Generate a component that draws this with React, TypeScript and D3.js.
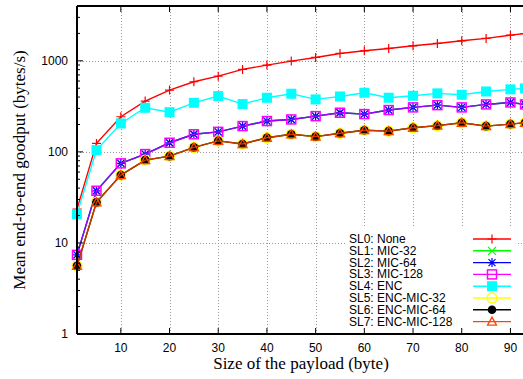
import React from "react";
import * as d3 from "d3";

const payloadSizes = [1, 5, 10, 15, 20, 25, 30, 35, 40, 45, 50, 55, 60, 65, 70, 75, 80, 85, 90, 93];

const sl0None = [23.5, 124, 243, 361, 477, 589, 679, 805, 898, 993, 1089, 1205, 1288, 1368, 1462, 1552, 1660, 1762, 1915, 1995];
const sl1Mic32 = [7.4, 37.4, 74.8, 94.6, 126, 156, 166, 192, 218, 227, 247, 269, 260, 288, 308, 326, 308, 332, 349, 332];
const sl2Mic64 = [7.4, 37.4, 74.8, 94.6, 126, 156, 166, 192, 218, 227, 247, 269, 260, 288, 308, 326, 308, 332, 349, 332];
const sl3Mic128 = [7.4, 37.4, 74.8, 94.6, 126, 156, 166, 192, 218, 227, 247, 269, 260, 288, 308, 326, 308, 332, 349, 332];
const sl4Enc = [20.7, 104.6, 205, 305, 273, 346, 410, 335, 393, 435, 377, 406, 446, 393, 413, 439, 424, 461, 486, 498];
const sl5EncMic32 = [5.6, 27.9, 55.6, 81.3, 89.9, 112, 132, 122, 143, 156, 147, 160, 173, 169, 184, 194, 209, 192, 202, 209];
const sl6EncMic64 = [5.6, 27.9, 55.6, 81.3, 89.9, 112, 132, 122, 143, 156, 147, 160, 173, 169, 184, 194, 209, 192, 202, 209];
const sl7EncMic128 = [5.6, 27.9, 55.6, 81.3, 89.9, 112, 132, 122, 143, 156, 147, 160, 173, 169, 184, 194, 209, 192, 202, 209];

const seriesNames = ["SL0: None", "SL1: MIC-32", "SL2: MIC-64", "SL3: MIC-128", "SL4: ENC", "SL5: ENC-MIC-32", "SL6: ENC-MIC-64", "SL7: ENC-MIC-128"];
const seriesValues = [sl0None, sl1Mic32, sl2Mic64, sl3Mic128, sl4Enc, sl5EncMic32, sl6EncMic64, sl7EncMic128];
const seriesColors = ["#ff0000", "#00ff00", "#0000ff", "#ff00ff", "#00ffff", "#ffff00", "#000000", "#ff4500"];
const seriesMarkers = ["plus", "cross", "star", "openSquare", "filledSquare", "openCircle", "filledCircle", "openTriangle"];
const lineOpacity = [1, 1, 1, 0.6, 1, 1, 1, 0.8];

const xTickValues = [10, 20, 30, 40, 50, 60, 70, 80, 90];
const yTickValues = [1, 10, 100, 1000];

const W = 523;
const H = 379;
const left = 77;
const top = 6;
const bottom = 334;

const x = d3.scaleLinear().domain([1, 95]).range([left, left + 94 * 4.87]);
const y = d3.scaleLog().domain([1, 4000]).range([bottom, top]);

function Marker({ type, cx, cy, color }: { type: string; cx: number; cy: number; color: string }) {
  const s = 4.5;
  switch (type) {
    case "plus":
      return (
        <path d={`M${cx - s},${cy}H${cx + s}M${cx},${cy - s}V${cy + s}`} stroke={color} strokeWidth={1.2} fill="none" />
      );
    case "cross":
      return (
        <path d={`M${cx - 4},${cy - 4}L${cx + 4},${cy + 4}M${cx - 4},${cy + 4}L${cx + 4},${cy - 4}`} stroke={color} strokeWidth={1.2} fill="none" />
      );
    case "star":
      return (
        <path
          d={`M${cx - s},${cy}H${cx + s}M${cx},${cy - s}V${cy + s}M${cx - 3.5},${cy - 3.5}L${cx + 3.5},${cy + 3.5}M${cx - 3.5},${cy + 3.5}L${cx + 3.5},${cy - 3.5}`}
          stroke={color}
          strokeWidth={1.2}
          fill="none"
        />
      );
    case "openSquare":
      return (
        <g>
          <rect x={cx - 4.5} y={cy - 4.5} width={9} height={9} stroke={color} strokeWidth={1.5} fill="none" />
          <rect x={cx - 0.5} y={cy - 0.5} width={1} height={1} fill={color} />
        </g>
      );
    case "filledSquare":
      return <rect x={cx - 5} y={cy - 5} width={10} height={10} fill={color} />;
    case "openCircle":
      return <circle cx={cx} cy={cy} r={5} stroke={color} strokeWidth={1.3} fill="none" />;
    case "filledCircle":
      return <circle cx={cx} cy={cy} r={4.3} fill={color} />;
    case "openTriangle":
      return (
        <path d={`M${cx},${cy - 4.5}L${cx + 4.5},${cy + 3.5}L${cx - 4.5},${cy + 3.5}Z`} stroke={color} strokeWidth={1.3} fill="none" />
      );
    default:
      return null;
  }
}

export default function App() {
  const line = d3
    .line<number>()
    .x((_, i) => x(payloadSizes[i]))
    .y((d) => y(d));

  const minorTicks: number[] = [];
  for (let dec = 1; dec <= 1000; dec *= 10) {
    for (let m = 2; m <= 9; m++) {
      const v = dec * m;
      if (v <= 4000) minorTicks.push(v);
    }
  }

  const legendX = 349;
  const legendY0 = 239;
  const legendDy = 11.8;
  const sampleX0 = 473;
  const sampleX1 = 511;

  return (
    <svg width={W} height={H} style={{ position: "absolute", left: 0, top: 0, background: "#fff" }}>
      <rect x={0} y={0} width={W} height={H} fill="#fff" />
      {/* grid */}
      <g stroke="#999" strokeWidth={1} strokeDasharray="1,2">
        {xTickValues.map((v) => (
          <line key={"gx" + v} x1={Math.round(x(v)) + 0.5} x2={Math.round(x(v)) + 0.5} y1={top} y2={bottom} />
        ))}
        {yTickValues.slice(1).map((v) => (
          <line key={"gy" + v} x1={left} x2={W} y1={Math.round(y(v)) + 0.5} y2={Math.round(y(v)) + 0.5} />
        ))}
      </g>
      {/* legend background */}
      <rect x={346} y={227} width={172} height={bottom - 227} fill="#fff" />
      {/* series */}
      {seriesValues.map((vals, si) => (
        <g key={"s" + si}>
          <path d={line(vals) || ""} fill="none" stroke={seriesColors[si]} strokeOpacity={lineOpacity[si]} strokeWidth={1.4} />
          {vals.map((v, i) => (
            <Marker key={i} type={seriesMarkers[si]} cx={x(payloadSizes[i])} cy={y(v)} color={seriesColors[si]} />
          ))}
        </g>
      ))}
      {/* axes */}
      <g stroke="#000" fill="none">
        <line x1={left} x2={W} y1={bottom} y2={bottom} strokeWidth={2} />
        <line x1={left} x2={W} y1={top} y2={top} strokeWidth={2} />
        <line x1={left} x2={left} y1={top} y2={bottom} strokeWidth={2} />
        {xTickValues.map((v) => (
          <g key={"tx" + v}>
            <line x1={x(v)} x2={x(v)} y1={bottom} y2={bottom - 6} strokeWidth={1} />
            <line x1={x(v)} x2={x(v)} y1={top} y2={top + 6} strokeWidth={1} />
          </g>
        ))}
        {yTickValues.map((v) => (
          <line key={"ty" + v} x1={left} x2={left + 6} y1={y(v)} y2={y(v)} strokeWidth={1} />
        ))}
        {minorTicks.map((v) => (
          <line key={"my" + v} x1={left} x2={left + 3} y1={y(v)} y2={y(v)} strokeWidth={1} />
        ))}
      </g>
      {/* tick labels */}
      <g fontFamily="'Liberation Sans', Arial, sans-serif" fontSize={12} fill="#000">
        {xTickValues.map((v) => (
          <text key={"lx" + v} x={x(v)} y={352} textAnchor="middle">
            {v}
          </text>
        ))}
        {yTickValues.map((v) => (
          <text key={"ly" + v} x={68} y={y(v)} textAnchor="end" dominantBaseline="central">
            {v}
          </text>
        ))}
      </g>
      {/* axis titles */}
      <g fontFamily="'Liberation Serif', 'Times New Roman', serif" fontSize={17} fill="#000">
        <text x={301} y={369} textAnchor="middle">
          Size of the payload (byte)
        </text>
        <text transform="translate(25,170) rotate(-90)" textAnchor="middle">
          Mean end-to-end goodput (bytes/s)
        </text>
      </g>
      {/* legend */}
      <g fontFamily="'Liberation Sans', Arial, sans-serif" fontSize={12} fill="#000">
        {seriesNames.map((name, i) => {
          const ly = legendY0 + i * legendDy;
          return (
            <g key={"lg" + i}>
              <text x={legendX} y={ly} dominantBaseline="central">
                {name}
              </text>
              <line x1={sampleX0} x2={sampleX1} y1={ly} y2={ly} stroke={seriesColors[i]} strokeWidth={1.4} />
              <Marker type={seriesMarkers[i]} cx={(sampleX0 + sampleX1) / 2} cy={ly} color={seriesColors[i]} />
            </g>
          );
        })}
      </g>
    </svg>
  );
}
